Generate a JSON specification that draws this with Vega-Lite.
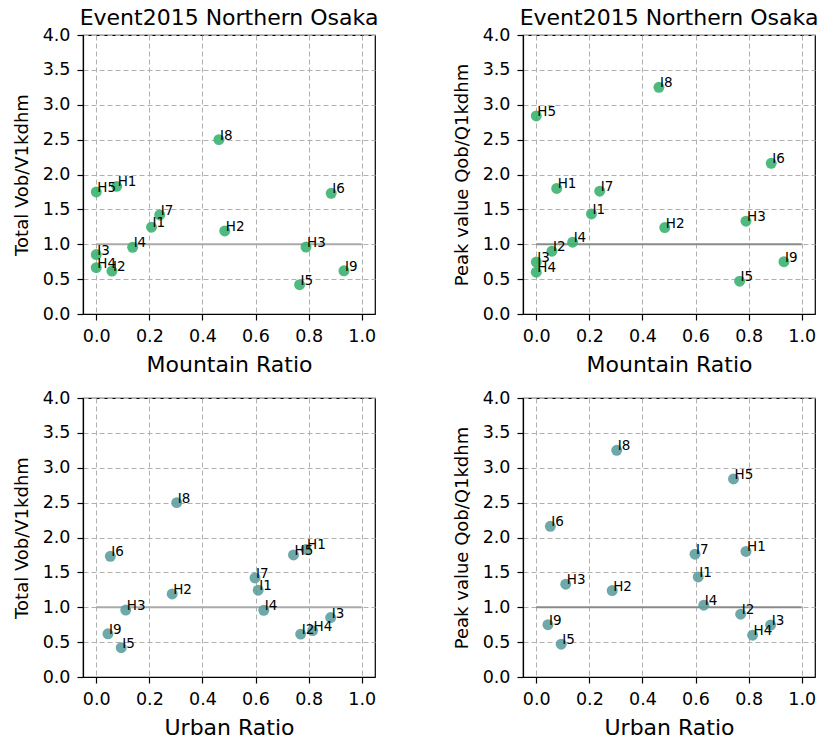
{
  "$schema": "https://vega.github.io/schema/vega-lite/v6.json",
  "background": "white",
  "padding": {"left": 12, "top": 6, "right": 0, "bottom": 0},
  "datasets": {
    "pts": [
      {"id": "H1", "mountain": 0.077, "urban": 0.79, "total": 1.83, "peak": 1.80},
      {"id": "H2", "mountain": 0.484, "urban": 0.286, "total": 1.19, "peak": 1.24},
      {"id": "H3", "mountain": 0.79, "urban": 0.111, "total": 0.96, "peak": 1.33},
      {"id": "H4", "mountain": 0.0, "urban": 0.815, "total": 0.665, "peak": 0.60},
      {"id": "H5", "mountain": 0.0, "urban": 0.743, "total": 1.75, "peak": 2.84},
      {"id": "I1", "mountain": 0.208, "urban": 0.61, "total": 1.245, "peak": 1.435},
      {"id": "I2", "mountain": 0.059, "urban": 0.77, "total": 0.615, "peak": 0.90},
      {"id": "I3", "mountain": 0.0, "urban": 0.883, "total": 0.853, "peak": 0.745},
      {"id": "I4", "mountain": 0.137, "urban": 0.631, "total": 0.956, "peak": 1.03},
      {"id": "I5", "mountain": 0.766, "urban": 0.094, "total": 0.42, "peak": 0.47},
      {"id": "I6", "mountain": 0.885, "urban": 0.053, "total": 1.73, "peak": 2.16},
      {"id": "I7", "mountain": 0.239, "urban": 0.598, "total": 1.42, "peak": 1.76},
      {"id": "I8", "mountain": 0.462, "urban": 0.303, "total": 2.5, "peak": 3.25},
      {"id": "I9", "mountain": 0.933, "urban": 0.044, "total": 0.62, "peak": 0.75}
    ],
    "ref": [{"x0": 0, "x1": 1, "y": 1}]
  },
  "columns": 2,
  "bounds": "flush",
  "spacing": {"column": 148, "row": 84},
  "config": {
    "font": "DejaVu Sans",
    "view": {"stroke": "black", "strokeWidth": 1.2},
    "title": {"font": "DejaVu Sans", "fontSize": 22, "fontWeight": "normal", "color": "black", "baseline": "alphabetic", "offset": -4, "anchor": "middle"},
    "axis": {
      "domain": true, "domainColor": "black", "domainWidth": 1.2,
      "ticks": true, "tickColor": "black", "tickSize": 6, "tickWidth": 1.2,
      "labelFont": "DejaVu Sans", "labelFontSize": 17.5, "labelColor": "black", "labelPadding": 7,
      "labelFlush": false, "labelOverlap": false,
      "titleFont": "DejaVu Sans", "titleFontWeight": "normal", "titleColor": "black",
      "grid": true, "gridColor": "#b0b0b0", "gridDash": [5, 3], "gridWidth": 1
    },
    "axisX": {"titleFontSize": 22, "titleBaseline": "alphabetic", "titleX": 146, "titleY": 57, "values": [0, 0.2, 0.4, 0.6, 0.8, 1.0], "format": ".1f"},
    "axisY": {"titleFontSize": 18, "titleBaseline": "alphabetic", "titleX": -56, "titleY": 139.5, "values": [0, 0.5, 1, 1.5, 2, 2.5, 3, 3.5, 4], "format": ".1f"}
  },
  "concat": [
    {
      "width": 292, "height": 279,
      "title": "Event2015 Northern Osaka",
      "layer": [
        {"data": {"name": "ref"}, "mark": {"type": "rule", "color": "#aaaaaa", "strokeWidth": 2},
         "encoding": {"x": {"field": "x0", "type": "quantitative", "title": "Mountain Ratio", "scale": {"domain": [-0.05, 1.05], "nice": false, "zero": false}, "axis": {"values": [0, 0.2, 0.4, 0.6, 0.8, 1.0], "format": ".1f"}}, "x2": {"field": "x1"}, "y": {"field": "y", "type": "quantitative", "title": "Total Vob/V1kdhm", "scale": {"domain": [0, 4], "nice": false}, "axis": {"values": [0, 0.5, 1, 1.5, 2, 2.5, 3, 3.5, 4], "format": ".1f"}}}},
        {"data": {"name": "pts"}, "mark": {"type": "point", "filled": true, "size": 120, "color": "#3cb371", "opacity": 0.9},
         "encoding": {
           "x": {"field": "mountain", "type": "quantitative", "title": "Mountain Ratio", "scale": {"domain": [-0.05, 1.05], "nice": false, "zero": false}, "axis": {"values": [0, 0.2, 0.4, 0.6, 0.8, 1.0], "format": ".1f"}},
           "y": {"field": "total", "type": "quantitative", "title": "Total Vob/V1kdhm", "scale": {"domain": [0, 4], "nice": false}, "axis": {"values": [0, 0.5, 1, 1.5, 2, 2.5, 3, 3.5, 4], "format": ".1f"}}}},
        {"data": {"name": "pts"}, "mark": {"type": "text", "align": "left", "baseline": "alphabetic", "fontSize": 13.5, "dx": 1, "color": "black"},
         "encoding": {"x": {"field": "mountain", "type": "quantitative", "title": "Mountain Ratio", "axis": {"values": [0, 0.2, 0.4, 0.6, 0.8, 1.0], "format": ".1f"}}, "y": {"field": "total", "type": "quantitative", "title": "Total Vob/V1kdhm", "axis": {"values": [0, 0.5, 1, 1.5, 2, 2.5, 3, 3.5, 4], "format": ".1f"}}, "text": {"field": "id"}}}
      ]
    },
    {
      "width": 292, "height": 279,
      "title": "Event2015 Northern Osaka",
      "layer": [
        {"data": {"name": "ref"}, "mark": {"type": "rule", "color": "#8a8a8a", "strokeWidth": 2},
         "encoding": {"x": {"field": "x0", "type": "quantitative", "title": "Mountain Ratio", "scale": {"domain": [-0.05, 1.05], "nice": false, "zero": false}, "axis": {"values": [0, 0.2, 0.4, 0.6, 0.8, 1.0], "format": ".1f"}}, "x2": {"field": "x1"}, "y": {"field": "y", "type": "quantitative", "title": "Peak value Qob/Q1kdhm", "scale": {"domain": [0, 4], "nice": false}, "axis": {"values": [0, 0.5, 1, 1.5, 2, 2.5, 3, 3.5, 4], "format": ".1f"}}}},
        {"data": {"name": "pts"}, "mark": {"type": "point", "filled": true, "size": 120, "color": "#3cb371", "opacity": 0.9},
         "encoding": {
           "x": {"field": "mountain", "type": "quantitative", "title": "Mountain Ratio", "scale": {"domain": [-0.05, 1.05], "nice": false, "zero": false}, "axis": {"values": [0, 0.2, 0.4, 0.6, 0.8, 1.0], "format": ".1f"}},
           "y": {"field": "peak", "type": "quantitative", "title": "Peak value Qob/Q1kdhm", "scale": {"domain": [0, 4], "nice": false}, "axis": {"values": [0, 0.5, 1, 1.5, 2, 2.5, 3, 3.5, 4], "format": ".1f"}}}},
        {"data": {"name": "pts"}, "mark": {"type": "text", "align": "left", "baseline": "alphabetic", "fontSize": 13.5, "dx": 1, "color": "black"},
         "encoding": {"x": {"field": "mountain", "type": "quantitative", "title": "Mountain Ratio", "axis": {"values": [0, 0.2, 0.4, 0.6, 0.8, 1.0], "format": ".1f"}}, "y": {"field": "peak", "type": "quantitative", "title": "Peak value Qob/Q1kdhm", "axis": {"values": [0, 0.5, 1, 1.5, 2, 2.5, 3, 3.5, 4], "format": ".1f"}}, "text": {"field": "id"}}}
      ]
    },
    {
      "width": 292, "height": 279,
      "layer": [
        {"data": {"name": "ref"}, "mark": {"type": "rule", "color": "#aaaaaa", "strokeWidth": 2},
         "encoding": {"x": {"field": "x0", "type": "quantitative", "title": "Urban Ratio", "scale": {"domain": [-0.05, 1.05], "nice": false, "zero": false}, "axis": {"values": [0, 0.2, 0.4, 0.6, 0.8, 1.0], "format": ".1f"}}, "x2": {"field": "x1"}, "y": {"field": "y", "type": "quantitative", "title": "Total Vob/V1kdhm", "scale": {"domain": [0, 4], "nice": false}, "axis": {"values": [0, 0.5, 1, 1.5, 2, 2.5, 3, 3.5, 4], "format": ".1f"}}}},
        {"data": {"name": "pts"}, "mark": {"type": "point", "filled": true, "size": 120, "color": "#5f9ea0", "opacity": 0.9},
         "encoding": {
           "x": {"field": "urban", "type": "quantitative", "title": "Urban Ratio", "scale": {"domain": [-0.05, 1.05], "nice": false, "zero": false}, "axis": {"values": [0, 0.2, 0.4, 0.6, 0.8, 1.0], "format": ".1f"}},
           "y": {"field": "total", "type": "quantitative", "title": "Total Vob/V1kdhm", "scale": {"domain": [0, 4], "nice": false}, "axis": {"values": [0, 0.5, 1, 1.5, 2, 2.5, 3, 3.5, 4], "format": ".1f"}}}},
        {"data": {"name": "pts"}, "mark": {"type": "text", "align": "left", "baseline": "alphabetic", "fontSize": 13.5, "dx": 1, "color": "black"},
         "encoding": {"x": {"field": "urban", "type": "quantitative", "title": "Urban Ratio", "axis": {"values": [0, 0.2, 0.4, 0.6, 0.8, 1.0], "format": ".1f"}}, "y": {"field": "total", "type": "quantitative", "title": "Total Vob/V1kdhm", "axis": {"values": [0, 0.5, 1, 1.5, 2, 2.5, 3, 3.5, 4], "format": ".1f"}}, "text": {"field": "id"}}}
      ]
    },
    {
      "width": 292, "height": 279,
      "layer": [
        {"data": {"name": "ref"}, "mark": {"type": "rule", "color": "#8a8a8a", "strokeWidth": 2},
         "encoding": {"x": {"field": "x0", "type": "quantitative", "title": "Urban Ratio", "scale": {"domain": [-0.05, 1.05], "nice": false, "zero": false}, "axis": {"values": [0, 0.2, 0.4, 0.6, 0.8, 1.0], "format": ".1f"}}, "x2": {"field": "x1"}, "y": {"field": "y", "type": "quantitative", "title": "Peak value Qob/Q1kdhm", "scale": {"domain": [0, 4], "nice": false}, "axis": {"values": [0, 0.5, 1, 1.5, 2, 2.5, 3, 3.5, 4], "format": ".1f"}}}},
        {"data": {"name": "pts"}, "mark": {"type": "point", "filled": true, "size": 120, "color": "#5f9ea0", "opacity": 0.9},
         "encoding": {
           "x": {"field": "urban", "type": "quantitative", "title": "Urban Ratio", "scale": {"domain": [-0.05, 1.05], "nice": false, "zero": false}, "axis": {"values": [0, 0.2, 0.4, 0.6, 0.8, 1.0], "format": ".1f"}},
           "y": {"field": "peak", "type": "quantitative", "title": "Peak value Qob/Q1kdhm", "scale": {"domain": [0, 4], "nice": false}, "axis": {"values": [0, 0.5, 1, 1.5, 2, 2.5, 3, 3.5, 4], "format": ".1f"}}}},
        {"data": {"name": "pts"}, "mark": {"type": "text", "align": "left", "baseline": "alphabetic", "fontSize": 13.5, "dx": 1, "color": "black"},
         "encoding": {"x": {"field": "urban", "type": "quantitative", "title": "Urban Ratio", "axis": {"values": [0, 0.2, 0.4, 0.6, 0.8, 1.0], "format": ".1f"}}, "y": {"field": "peak", "type": "quantitative", "title": "Peak value Qob/Q1kdhm", "axis": {"values": [0, 0.5, 1, 1.5, 2, 2.5, 3, 3.5, 4], "format": ".1f"}}, "text": {"field": "id"}}}
      ]
    }
  ]
}
